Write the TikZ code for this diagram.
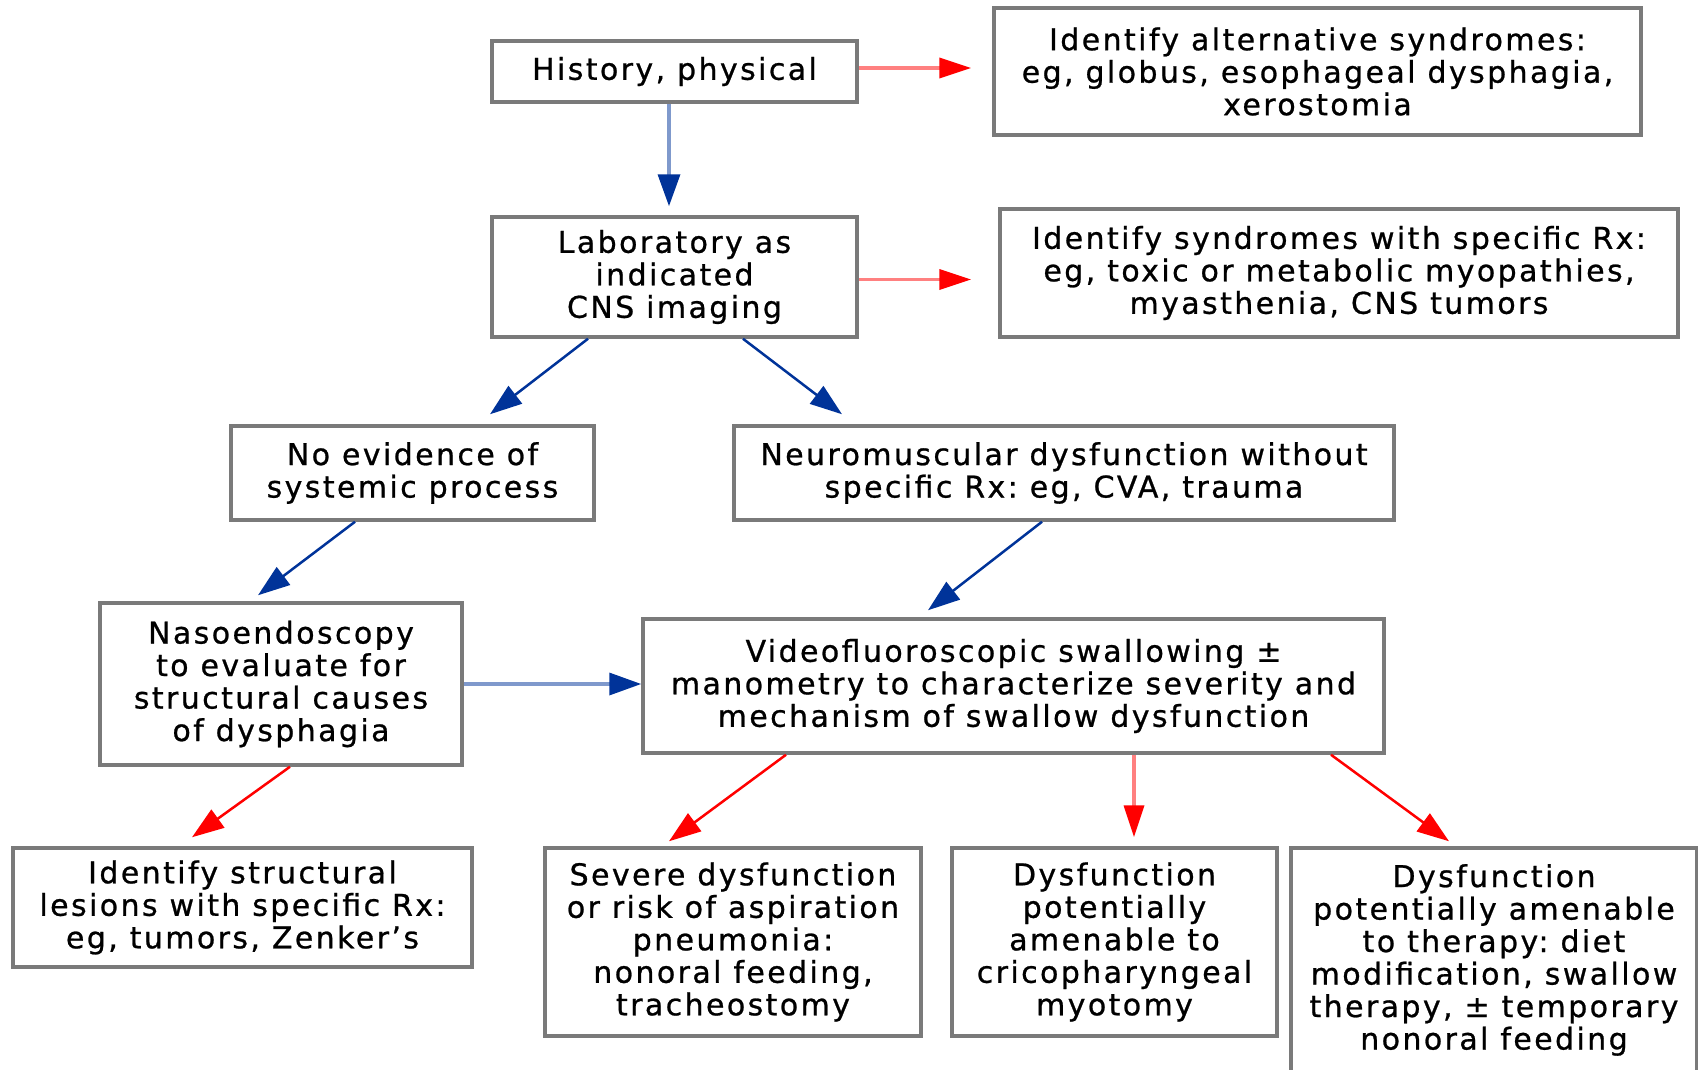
\documentclass[tikz,border=0pt]{standalone}
\usepackage{fontspec}
\setmainfont{DejaVu Sans}[LetterSpace=8,FakeBold=0.8]
\frenchspacing
\usetikzlibrary{arrows.meta}
\definecolor{boxgray}{HTML}{7A7A7A}
\definecolor{lblue}{HTML}{7F99CC}
\definecolor{dblue}{HTML}{003399}
\definecolor{lred}{HTML}{FF8080}
\definecolor{dred}{HTML}{FF0000}
\tikzset{
  box/.style={draw=boxgray, line width=3.5pt, fill=white, align=center, inner sep=0pt,
    font=\fontsize{30}{32.5}\selectfont},
  hblue/.style={draw=lblue, line width=3.5pt, -{Triangle[length=32pt,width=22pt,color=dblue]}},
  dbluearr/.style={draw=dblue, line width=2.5pt, -{Triangle[length=32pt,width=22pt,color=dblue]}},
  hred/.style={draw=lred, line width=3.5pt, -{Triangle[length=32pt,width=20pt,color=dred]}},
  dredarr/.style={draw=dred, line width=2.5pt, -{Triangle[length=32pt,width=22pt,color=dred]}},
}
\begin{document}
\begin{tikzpicture}[x=1pt,y=-1pt]
\useasboundingbox (0,0) rectangle (1698,1069);
\fill[white] (0,0) rectangle (1698,1069);

\node[box, minimum width=365pt, minimum height=61pt] (hist) at (674.5,71.5) {History, physical};
\node[box, minimum width=647pt, minimum height=127pt] (alt) at (1317.5,71.5) {Identify alternative syndromes:\\eg, globus, esophageal dysphagia,\\xerostomia};
\node[box, minimum width=365pt, minimum height=120pt] (lab) at (674.5,277) {Laboratory as\\indicated\\CNS imaging};
\node[box, minimum width=678pt, minimum height=128pt] (spec) at (1339,273) {Identify syndromes with specific Rx:\\eg, toxic or metabolic myopathies,\\myasthenia, CNS tumors};
\node[box, minimum width=363pt, minimum height=94pt] (noev) at (412.5,473) {No evidence of\\systemic process};
\node[box, minimum width=660pt, minimum height=94pt] (neuro) at (1064,473) {Neuromuscular dysfunction without\\specific Rx: eg, CVA, trauma};
\node[box, minimum width=362pt, minimum height=162pt] (naso) at (281,684) {Nasoendoscopy\\to evaluate for\\structural causes\\of dysphagia};
\node[box, minimum width=741pt, minimum height=134pt] (video) at (1013.5,686) {Videofluoroscopic swallowing ±\\manometry to characterize severity and\\mechanism of swallow dysfunction};
\node[box, minimum width=459pt, minimum height=119pt] (struct) at (242.5,907.5) {Identify structural\\lesions with specific Rx:\\eg, tumors, Zenker’s};
\node[box, minimum width=376pt, minimum height=188pt] (severe) at (733,942) {Severe dysfunction\\or risk of aspiration\\pneumonia:\\nonoral feeding,\\tracheostomy};
\node[box, minimum width=325pt, minimum height=188pt] (crico) at (1114.5,942) {Dysfunction\\potentially\\amenable to\\cricopharyngeal\\myotomy};
\node[box, minimum width=406pt, minimum height=224pt] (therapy) at (1494,960) {Dysfunction\\potentially amenable\\to therapy: diet\\modification, swallow\\therapy, ± temporary\\nonoral feeding};

\draw[hblue] ([xshift=-5.5pt]hist.south) -- ([xshift=-5.5pt,yshift=9pt]lab.north);
\draw[hred] ([yshift=3.5pt]hist.east) -- ([xshift=-21pt,yshift=3.5pt]alt.west);
\draw[hred] ([yshift=-2.5pt]lab.east) -- ([xshift=-27pt,yshift=-6.5pt]spec.west);
\draw[dbluearr] ([xshift=-86.5pt]lab.south) -- ([xshift=77.5pt,yshift=10pt]noev.north);
\draw[dbluearr] ([xshift=68.5pt]lab.south) -- ([xshift=-222pt,yshift=10pt]neuro.north);
\draw[dbluearr] ([xshift=-57.5pt]noev.south) -- ([xshift=-23pt,yshift=6pt]naso.north);
\draw[dbluearr] ([xshift=-22pt]neuro.south) -- ([xshift=-85.5pt,yshift=7pt]video.north);
\draw[hblue] (naso.east) -- (naso.east -| video.west);
\draw[dredarr] ([xshift=9pt]naso.south) -- ([xshift=-50.5pt,yshift=9pt]struct.north);
\draw[dredarr] ([xshift=-227.5pt]video.south) -- ([xshift=-64pt,yshift=5pt]severe.north);
\draw[hred] ([xshift=120.5pt]video.south) -- ([xshift=19.5pt,yshift=9pt]crico.north);
\draw[dredarr] ([xshift=317.5pt]video.south) -- ([xshift=-45pt,yshift=5pt]therapy.north);
\end{tikzpicture}
\end{document}
